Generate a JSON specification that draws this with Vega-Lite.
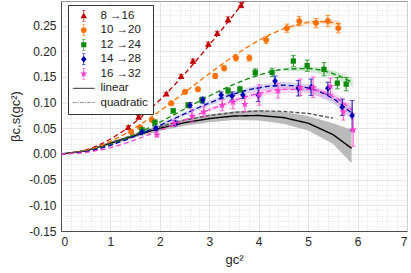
{
  "$schema": "https://vega.github.io/schema/vega-lite/v6.json",
  "width": 346,
  "height": 230,
  "autosize": {"type": "none"},
  "padding": {"left": 61, "top": 1, "right": 4, "bottom": 42},
  "config": {
    "view": {"stroke": "#9a9a9a", "strokeWidth": 1},
    "font": "Liberation Sans",
    "axis": {
      "labelFont": "Liberation Sans", "labelFontSize": 12, "labelColor": "#262626",
      "titleFont": "Liberation Sans", "titleFontSize": 13, "titleFontWeight": "normal", "titleColor": "#262626",
      "domainColor": "#4d4d4d", "ticks": false, "gridColor": "#dedede", "gridWidth": 0.8
    },
    "legend": {
      "orient": "none", "legendX": 7, "legendY": 4, "padding": 5,
      "strokeColor": "#333333", "fillColor": "white",
      "labelFont": "Liberation Sans", "labelFontSize": 11.5, "labelColor": "#1a1a1a",
      "symbolSize": 46, "rowPadding": 1.5, "labelOffset": 11, "symbolOffset": 5,
      "symbolStrokeWidth": 0
    }
  },
  "datasets": {
    "pts": [
      {"s": "8 →16", "x": 1.36, "y": 0.052, "lo": 0.049, "hi": 0.055},
      {"s": "8 →16", "x": 1.57, "y": 0.072, "lo": 0.069, "hi": 0.075},
      {"s": "8 →16", "x": 1.78, "y": 0.087, "lo": 0.084, "hi": 0.090},
      {"s": "8 →16", "x": 2.13, "y": 0.117, "lo": 0.114, "hi": 0.120},
      {"s": "8 →16", "x": 2.43, "y": 0.151, "lo": 0.147, "hi": 0.155},
      {"s": "8 →16", "x": 2.67, "y": 0.181, "lo": 0.177, "hi": 0.185},
      {"s": "8 →16", "x": 2.98, "y": 0.214, "lo": 0.210, "hi": 0.218},
      {"s": "8 →16", "x": 3.16, "y": 0.235, "lo": 0.231, "hi": 0.239},
      {"s": "8 →16", "x": 3.38, "y": 0.262, "lo": 0.257, "hi": 0.267},
      {"s": "8 →16", "x": 3.64, "y": 0.290, "lo": 0.285, "hi": 0.295},
      {"s": "10 →20", "x": 1.42, "y": 0.043, "lo": 0.040, "hi": 0.046},
      {"s": "10 →20", "x": 1.60, "y": 0.052, "lo": 0.049, "hi": 0.055},
      {"s": "10 →20", "x": 1.84, "y": 0.066, "lo": 0.063, "hi": 0.069},
      {"s": "10 →20", "x": 2.23, "y": 0.099, "lo": 0.095, "hi": 0.103},
      {"s": "10 →20", "x": 2.51, "y": 0.121, "lo": 0.117, "hi": 0.125},
      {"s": "10 →20", "x": 2.77, "y": 0.126, "lo": 0.122, "hi": 0.130},
      {"s": "10 →20", "x": 3.12, "y": 0.152, "lo": 0.147, "hi": 0.157},
      {"s": "10 →20", "x": 3.30, "y": 0.167, "lo": 0.162, "hi": 0.172},
      {"s": "10 →20", "x": 3.54, "y": 0.187, "lo": 0.181, "hi": 0.193},
      {"s": "10 →20", "x": 3.81, "y": 0.187, "lo": 0.181, "hi": 0.193},
      {"s": "10 →20", "x": 4.15, "y": 0.222, "lo": 0.215, "hi": 0.229},
      {"s": "10 →20", "x": 4.57, "y": 0.245, "lo": 0.237, "hi": 0.253},
      {"s": "10 →20", "x": 4.82, "y": 0.259, "lo": 0.250, "hi": 0.268},
      {"s": "10 →20", "x": 5.16, "y": 0.255, "lo": 0.246, "hi": 0.264},
      {"s": "10 →20", "x": 5.40, "y": 0.259, "lo": 0.248, "hi": 0.270},
      {"s": "10 →20", "x": 5.61, "y": 0.245, "lo": 0.236, "hi": 0.254},
      {"s": "12 →24", "x": 1.64, "y": 0.047, "lo": 0.044, "hi": 0.050},
      {"s": "12 →24", "x": 1.90, "y": 0.062, "lo": 0.058, "hi": 0.066},
      {"s": "12 →24", "x": 2.27, "y": 0.084, "lo": 0.080, "hi": 0.088},
      {"s": "12 →24", "x": 2.57, "y": 0.095, "lo": 0.090, "hi": 0.100},
      {"s": "12 →24", "x": 2.85, "y": 0.105, "lo": 0.100, "hi": 0.110},
      {"s": "12 →24", "x": 3.38, "y": 0.123, "lo": 0.117, "hi": 0.129},
      {"s": "12 →24", "x": 3.62, "y": 0.126, "lo": 0.120, "hi": 0.132},
      {"s": "12 →24", "x": 3.93, "y": 0.159, "lo": 0.152, "hi": 0.166},
      {"s": "12 →24", "x": 4.27, "y": 0.159, "lo": 0.151, "hi": 0.167},
      {"s": "12 →24", "x": 4.70, "y": 0.181, "lo": 0.170, "hi": 0.192},
      {"s": "12 →24", "x": 4.98, "y": 0.172, "lo": 0.161, "hi": 0.183},
      {"s": "12 →24", "x": 5.32, "y": 0.165, "lo": 0.152, "hi": 0.178},
      {"s": "12 →24", "x": 5.59, "y": 0.138, "lo": 0.127, "hi": 0.149},
      {"s": "12 →24", "x": 5.77, "y": 0.136, "lo": 0.123, "hi": 0.149},
      {"s": "14 →28", "x": 1.64, "y": 0.043, "lo": 0.040, "hi": 0.046},
      {"s": "14 →28", "x": 1.92, "y": 0.050, "lo": 0.046, "hi": 0.054},
      {"s": "14 →28", "x": 2.31, "y": 0.060, "lo": 0.055, "hi": 0.065},
      {"s": "14 →28", "x": 2.61, "y": 0.095, "lo": 0.090, "hi": 0.100},
      {"s": "14 →28", "x": 2.87, "y": 0.105, "lo": 0.099, "hi": 0.111},
      {"s": "14 →28", "x": 3.24, "y": 0.115, "lo": 0.109, "hi": 0.121},
      {"s": "14 →28", "x": 3.46, "y": 0.113, "lo": 0.105, "hi": 0.121},
      {"s": "14 →28", "x": 3.68, "y": 0.115, "lo": 0.108, "hi": 0.122},
      {"s": "14 →28", "x": 3.99, "y": 0.115, "lo": 0.102, "hi": 0.128},
      {"s": "14 →28", "x": 4.33, "y": 0.142, "lo": 0.132, "hi": 0.152},
      {"s": "14 →28", "x": 4.80, "y": 0.128, "lo": 0.113, "hi": 0.143},
      {"s": "14 →28", "x": 5.06, "y": 0.130, "lo": 0.114, "hi": 0.146},
      {"s": "14 →28", "x": 5.40, "y": 0.128, "lo": 0.116, "hi": 0.140},
      {"s": "14 →28", "x": 5.69, "y": 0.091, "lo": 0.075, "hi": 0.107},
      {"s": "14 →28", "x": 5.89, "y": 0.075, "lo": 0.046, "hi": 0.104},
      {"s": "16 →32", "x": 1.94, "y": 0.037, "lo": 0.033, "hi": 0.041},
      {"s": "16 →32", "x": 2.29, "y": 0.060, "lo": 0.054, "hi": 0.066},
      {"s": "16 →32", "x": 2.65, "y": 0.074, "lo": 0.062, "hi": 0.086},
      {"s": "16 →32", "x": 2.89, "y": 0.082, "lo": 0.072, "hi": 0.092},
      {"s": "16 →32", "x": 3.26, "y": 0.095, "lo": 0.084, "hi": 0.106},
      {"s": "16 →32", "x": 3.48, "y": 0.101, "lo": 0.088, "hi": 0.114},
      {"s": "16 →32", "x": 3.72, "y": 0.097, "lo": 0.082, "hi": 0.112},
      {"s": "16 →32", "x": 4.01, "y": 0.115, "lo": 0.095, "hi": 0.135},
      {"s": "16 →32", "x": 4.39, "y": 0.123, "lo": 0.109, "hi": 0.137},
      {"s": "16 →32", "x": 4.84, "y": 0.130, "lo": 0.114, "hi": 0.146},
      {"s": "16 →32", "x": 5.10, "y": 0.130, "lo": 0.110, "hi": 0.150},
      {"s": "16 →32", "x": 5.45, "y": 0.132, "lo": 0.116, "hi": 0.148},
      {"s": "16 →32", "x": 5.71, "y": 0.082, "lo": 0.066, "hi": 0.098},
      {"s": "16 →32", "x": 5.91, "y": 0.047, "lo": 0.015, "hi": 0.079}
    ],
    "fits": [
      {"s": "8 →16", "x": 0, "y": 0}, {"s": "8 →16", "x": 0.5, "y": 0.0076}, {"s": "8 →16", "x": 1, "y": 0.0291},
      {"s": "8 →16", "x": 1.5, "y": 0.0623}, {"s": "8 →16", "x": 2, "y": 0.1053}, {"s": "8 →16", "x": 2.5, "y": 0.156},
      {"s": "8 →16", "x": 3, "y": 0.2122}, {"s": "8 →16", "x": 3.5, "y": 0.272}, {"s": "8 →16", "x": 3.8, "y": 0.309},
      {"s": "10 →20", "x": 0, "y": 0}, {"s": "10 →20", "x": 0.5, "y": 0.0066}, {"s": "10 →20", "x": 1, "y": 0.0245},
      {"s": "10 →20", "x": 1.5, "y": 0.0512}, {"s": "10 →20", "x": 2, "y": 0.0838}, {"s": "10 →20", "x": 2.5, "y": 0.1198},
      {"s": "10 →20", "x": 3, "y": 0.1565}, {"s": "10 →20", "x": 3.5, "y": 0.1911}, {"s": "10 →20", "x": 4, "y": 0.2211},
      {"s": "10 →20", "x": 4.5, "y": 0.2437}, {"s": "10 →20", "x": 5, "y": 0.2562}, {"s": "10 →20", "x": 5.25, "y": 0.2578},
      {"s": "10 →20", "x": 5.5, "y": 0.256}, {"s": "10 →20", "x": 5.65, "y": 0.253},
      {"s": "12 →24", "x": 0, "y": 0}, {"s": "12 →24", "x": 0.5, "y": 0.005}, {"s": "12 →24", "x": 1, "y": 0.0184},
      {"s": "12 →24", "x": 1.5, "y": 0.0382}, {"s": "12 →24", "x": 2, "y": 0.062}, {"s": "12 →24", "x": 2.5, "y": 0.0876},
      {"s": "12 →24", "x": 3, "y": 0.1129}, {"s": "12 →24", "x": 3.5, "y": 0.1356}, {"s": "12 →24", "x": 4, "y": 0.1536},
      {"s": "12 →24", "x": 4.5, "y": 0.1646}, {"s": "12 →24", "x": 5, "y": 0.1664}, {"s": "12 →24", "x": 5.5, "y": 0.1567},
      {"s": "12 →24", "x": 5.9, "y": 0.1393},
      {"s": "14 →28", "x": 0, "y": 0}, {"s": "14 →28", "x": 0.5, "y": 0.0046}, {"s": "14 →28", "x": 1, "y": 0.0169},
      {"s": "14 →28", "x": 1.5, "y": 0.0347}, {"s": "14 →28", "x": 2, "y": 0.0558}, {"s": "14 →28", "x": 2.5, "y": 0.0781},
      {"s": "14 →28", "x": 3, "y": 0.0992}, {"s": "14 →28", "x": 3.5, "y": 0.1171}, {"s": "14 →28", "x": 4, "y": 0.129},
      {"s": "14 →28", "x": 4.5, "y": 0.134}, {"s": "14 →28", "x": 5, "y": 0.1285}, {"s": "14 →28", "x": 5.5, "y": 0.108},
      {"s": "14 →28", "x": 5.9, "y": 0.078},
      {"s": "16 →32", "x": 0, "y": 0}, {"s": "16 →32", "x": 0.5, "y": 0.003}, {"s": "16 →32", "x": 1, "y": 0.0125},
      {"s": "16 →32", "x": 1.5, "y": 0.0275}, {"s": "16 →32", "x": 2, "y": 0.046}, {"s": "16 →32", "x": 2.5, "y": 0.066},
      {"s": "16 →32", "x": 3, "y": 0.086}, {"s": "16 →32", "x": 3.5, "y": 0.104}, {"s": "16 →32", "x": 4, "y": 0.118},
      {"s": "16 →32", "x": 4.5, "y": 0.126}, {"s": "16 →32", "x": 5, "y": 0.126}, {"s": "16 →32", "x": 5.5, "y": 0.112},
      {"s": "16 →32", "x": 5.9, "y": 0.085}
    ],
    "ref": [
      {"s": "linear", "x": 0, "y": 0}, {"s": "linear", "x": 0.5, "y": 0.006}, {"s": "linear", "x": 1, "y": 0.021},
      {"s": "linear", "x": 1.5, "y": 0.036}, {"s": "linear", "x": 2, "y": 0.05}, {"s": "linear", "x": 2.5, "y": 0.061},
      {"s": "linear", "x": 3, "y": 0.069}, {"s": "linear", "x": 3.5, "y": 0.074}, {"s": "linear", "x": 4, "y": 0.075},
      {"s": "linear", "x": 4.5, "y": 0.071}, {"s": "linear", "x": 5, "y": 0.06}, {"s": "linear", "x": 5.5, "y": 0.038},
      {"s": "linear", "x": 5.88, "y": 0.011},
      {"s": "quadratic", "x": 0, "y": 0}, {"s": "quadratic", "x": 0.5, "y": 0.006}, {"s": "quadratic", "x": 1, "y": 0.022},
      {"s": "quadratic", "x": 1.5, "y": 0.038}, {"s": "quadratic", "x": 2, "y": 0.053}, {"s": "quadratic", "x": 2.5, "y": 0.066},
      {"s": "quadratic", "x": 3, "y": 0.075}, {"s": "quadratic", "x": 3.5, "y": 0.081}, {"s": "quadratic", "x": 4, "y": 0.084},
      {"s": "quadratic", "x": 4.5, "y": 0.083}, {"s": "quadratic", "x": 5, "y": 0.079}, {"s": "quadratic", "x": 5.5, "y": 0.07}
    ],
    "bands": [
      {"s": "linear", "x": 0, "lo": 0, "hi": 0}, {"s": "linear", "x": 0.5, "lo": 0.005, "hi": 0.007},
      {"s": "linear", "x": 1, "lo": 0.018, "hi": 0.024}, {"s": "linear", "x": 1.5, "lo": 0.032, "hi": 0.04},
      {"s": "linear", "x": 2, "lo": 0.045, "hi": 0.056}, {"s": "linear", "x": 2.5, "lo": 0.055, "hi": 0.068},
      {"s": "linear", "x": 3, "lo": 0.062, "hi": 0.077}, {"s": "linear", "x": 3.5, "lo": 0.066, "hi": 0.083},
      {"s": "linear", "x": 4, "lo": 0.065, "hi": 0.085}, {"s": "linear", "x": 4.5, "lo": 0.059, "hi": 0.082},
      {"s": "linear", "x": 5, "lo": 0.046, "hi": 0.074}, {"s": "linear", "x": 5.5, "lo": 0.02, "hi": 0.06},
      {"s": "linear", "x": 5.88, "lo": -0.018, "hi": 0.047},
      {"s": "10 →20", "x": 4.5, "lo": 0.2407, "hi": 0.2467}, {"s": "10 →20", "x": 5, "lo": 0.2522, "hi": 0.2602},
      {"s": "10 →20", "x": 5.25, "lo": 0.2533, "hi": 0.2623}, {"s": "10 →20", "x": 5.5, "lo": 0.251, "hi": 0.261},
      {"s": "10 →20", "x": 5.65, "lo": 0.247, "hi": 0.259},
      {"s": "12 →24", "x": 4.5, "lo": 0.161, "hi": 0.168}, {"s": "12 →24", "x": 5, "lo": 0.161, "hi": 0.172},
      {"s": "12 →24", "x": 5.5, "lo": 0.15, "hi": 0.163}, {"s": "12 →24", "x": 5.9, "lo": 0.131, "hi": 0.148},
      {"s": "14 →28", "x": 2, "lo": 0.052, "hi": 0.06}, {"s": "14 →28", "x": 2.5, "lo": 0.074, "hi": 0.082},
      {"s": "14 →28", "x": 3, "lo": 0.094, "hi": 0.104}, {"s": "14 →28", "x": 3.5, "lo": 0.112, "hi": 0.122},
      {"s": "14 →28", "x": 4, "lo": 0.123, "hi": 0.135}, {"s": "14 →28", "x": 4.5, "lo": 0.127, "hi": 0.141},
      {"s": "14 →28", "x": 5, "lo": 0.121, "hi": 0.136}, {"s": "14 →28", "x": 5.5, "lo": 0.099, "hi": 0.117},
      {"s": "14 →28", "x": 5.9, "lo": 0.066, "hi": 0.09},
      {"s": "16 →32", "x": 3, "lo": 0.082, "hi": 0.09}, {"s": "16 →32", "x": 3.5, "lo": 0.099, "hi": 0.109},
      {"s": "16 →32", "x": 4, "lo": 0.112, "hi": 0.124}, {"s": "16 →32", "x": 4.5, "lo": 0.119, "hi": 0.133},
      {"s": "16 →32", "x": 5, "lo": 0.118, "hi": 0.134}, {"s": "16 →32", "x": 5.5, "lo": 0.103, "hi": 0.121},
      {"s": "16 →32", "x": 5.9, "lo": 0.073, "hi": 0.097}
    ]
  },
  "resolve": {
    "scale": {"color": "independent", "shape": "independent"},
    "axis": {"x": "independent", "y": "independent"}
  },
  "layer": [
    {
      "data": {"name": "pts"},
      "mark": {"type": "point", "opacity": 0},
      "encoding": {
        "x": {"field": "x", "type": "quantitative", "scale": {"domain": [0, 7]},
          "axis": {"orient": "bottom", "values": [0.2,0.4,0.6,0.8,1.2,1.4,1.6,1.8,2.2,2.4,2.6,2.8,3.2,3.4,3.6,3.8,4.2,4.4,4.6,4.8,5.2,5.4,5.6,5.8,6.2,6.4,6.6,6.8],
            "grid": true, "gridDash": [1, 2], "gridColor": "#cfcfcf", "gridWidth": 0.7, "labels": false, "ticks": false, "domain": false, "title": null}},
        "y": {"field": "y", "type": "quantitative", "scale": {"domain": [-0.15, 0.298], "nice": false, "zero": false},
          "axis": {"orient": "left", "values": [-0.14,-0.13,-0.12,-0.11,-0.09,-0.08,-0.07,-0.06,-0.04,-0.03,-0.02,-0.01,0.01,0.02,0.03,0.04,0.06,0.07,0.08,0.09,0.11,0.12,0.13,0.14,0.16,0.17,0.18,0.19,0.21,0.22,0.23,0.24,0.26,0.27,0.28,0.29],
            "grid": true, "gridDash": [1, 2], "gridColor": "#cfcfcf", "gridWidth": 0.7, "labels": false, "ticks": false, "domain": false, "title": null}}
      }
    },
    {
      "data": {"name": "bands"},
      "transform": [{"filter": "datum.s === 'linear'"}],
      "mark": {"type": "area", "color": "#b3b3b3", "opacity": 0.9, "clip": true},
      "encoding": {
        "x": {"field": "x", "type": "quantitative", "scale": {"domain": [0, 7]},
          "axis": {"orient": "bottom", "values": [0,1,2,3,4,5,6,7], "grid": true, "title": "gc²", "labelPadding": 5, "titlePadding": 6, "domain": true}},
        "y": {"field": "lo", "type": "quantitative", "scale": {"domain": [-0.15, 0.298], "nice": false, "zero": false},
          "axis": {"orient": "left", "values": [-0.15,-0.1,-0.05,0,0.05,0.1,0.15,0.2,0.25], "grid": true, "title": "βc,s(gc²)",
            "labelExpr": "replace(format(datum.value, '.2f'), '−', '-')", "labelPadding": 5, "titlePadding": 6}},
        "y2": {"field": "hi"}
      }
    },
    {
      "data": {"name": "bands"},
      "transform": [{"filter": "datum.s !== 'linear'"}],
      "mark": {"type": "area", "opacity": 0.18, "clip": true},
      "encoding": {
        "x": {"field": "x", "type": "quantitative", "scale": {"domain": [0, 7]}, "axis": null},
        "y": {"field": "lo", "type": "quantitative", "scale": {"domain": [-0.15, 0.298], "nice": false, "zero": false}, "axis": null},
        "y2": {"field": "hi"},
        "color": {"field": "s", "type": "nominal", "legend": null,
          "scale": {"domain": ["8 →16", "10 →20", "12 →24", "14 →28", "16 →32"], "range": ["#c00000", "#ff7000", "#0b8a0b", "#3030c8", "#ff3fcf"]}}
      }
    },
    {
      "data": {"name": "ref"},
      "mark": {"type": "line", "clip": true, "strokeWidth": 1.4},
      "encoding": {
        "x": {"field": "x", "type": "quantitative", "scale": {"domain": [0, 7]}, "axis": null},
        "y": {"field": "y", "type": "quantitative", "scale": {"domain": [-0.15, 0.298], "nice": false, "zero": false}, "axis": null},
        "color": {"field": "s", "type": "nominal", "legend": null,
          "scale": {"domain": ["linear", "quadratic"], "range": ["#000000", "#555555"]}},
        "strokeDash": {"field": "s", "type": "nominal", "legend": null,
          "scale": {"domain": ["linear", "quadratic"], "range": [[1, 0], [4, 2]]}}
      }
    },
    {
      "data": {"name": "fits"},
      "mark": {"type": "line", "clip": true, "strokeWidth": 1.3, "strokeDash": [5, 3], "interpolate": "monotone"},
      "encoding": {
        "x": {"field": "x", "type": "quantitative", "scale": {"domain": [0, 7]}, "axis": null},
        "y": {"field": "y", "type": "quantitative", "scale": {"domain": [-0.15, 0.298], "nice": false, "zero": false}, "axis": null},
        "color": {"field": "s", "type": "nominal", "legend": null,
          "scale": {"domain": ["8 →16", "10 →20", "12 →24", "14 →28", "16 →32"], "range": ["#c00000", "#ff7000", "#0b8a0b", "#0000b4", "#ff3fcf"]}}
      }
    },
    {
      "data": {"name": "pts"},
      "mark": {"type": "errorbar", "ticks": {"size": 5, "thickness": 1}, "thickness": 1, "clip": true},
      "encoding": {
        "x": {"field": "x", "type": "quantitative", "scale": {"domain": [0, 7]}, "axis": null},
        "y": {"field": "lo", "type": "quantitative", "scale": {"domain": [-0.15, 0.298], "nice": false, "zero": false}, "axis": null},
        "y2": {"field": "hi"},
        "color": {"field": "s", "type": "nominal", "legend": null,
          "scale": {"domain": ["8 →16", "10 →20", "12 →24", "14 →28", "16 →32"], "range": ["#c00000", "#ff7000", "#0b8a0b", "#0000b4", "#ff3fcf"]}}
      }
    },
    {
      "data": {"name": "pts"},
      "mark": {"type": "point", "filled": true, "opacity": 1, "size": 50, "clip": true},
      "encoding": {
        "x": {"field": "x", "type": "quantitative", "scale": {"domain": [0, 7]}, "axis": null},
        "y": {"field": "y", "type": "quantitative", "scale": {"domain": [-0.15, 0.298], "nice": false, "zero": false}, "axis": null},
        "color": {"field": "s", "type": "nominal", "legend": null,
          "scale": {"domain": ["8 →16", "10 →20", "12 →24", "14 →28", "16 →32"], "range": ["#c00000", "#ff7000", "#0b8a0b", "#0000b4", "#ff3fcf"]}},
        "shape": {"field": "s", "type": "nominal", "legend": null,
          "scale": {"domain": ["8 →16", "10 →20", "12 →24", "14 →28", "16 →32"],
            "range": [
              "M0,-0.95L0.95,0.75H-0.95Z",
              "M-0.85,0A0.85,0.85 0 1,1 0.85,0A0.85,0.85 0 1,1 -0.85,0Z",
              "M-0.75,-0.75H0.75V0.75H-0.75Z",
              "M0,-1L0.8,0L0,1L-0.8,0Z",
              "M0,-1.15L0.27,-0.37L1.09,-0.36L0.44,0.14L0.68,0.93L0,0.46L-0.68,0.93L-0.44,0.14L-1.09,-0.36L-0.27,-0.37Z"
            ]}}
      }
    },
    {
      "data": {"name": "pts"},
      "transform": [{"filter": "datum.x > 100"}],
      "mark": {"type": "point", "filled": true, "opacity": 1},
      "encoding": {
        "x": {"field": "x", "type": "quantitative", "scale": {"domain": [0, 7]}, "axis": null},
        "y": {"field": "y", "type": "quantitative", "scale": {"domain": [-0.15, 0.298], "nice": false, "zero": false}, "axis": null},
        "color": {"field": "s", "type": "nominal", "legend": {"title": null},
          "scale": {"domain": ["8 →16", "10 →20", "12 →24", "14 →28", "16 →32", "linear", "quadratic"],
            "range": ["#c00000", "#ff7000", "#0b8a0b", "#0000b4", "#ff3fcf", "#000000", "#222222"]}},
        "shape": {"field": "s", "type": "nominal", "legend": {"title": null},
          "scale": {"domain": ["8 →16", "10 →20", "12 →24", "14 →28", "16 →32", "linear", "quadratic"],
            "range": [
              "M0,-0.95L0.95,0.75H-0.95Z M-0.09,-1.6H0.09V1.6H-0.09Z M-0.5,-1.7H0.5V-1.52H-0.5Z M-0.5,1.52H0.5V1.7H-0.5Z",
              "M-0.85,0A0.85,0.85 0 1,1 0.85,0A0.85,0.85 0 1,1 -0.85,0Z M-0.09,-1.6H0.09V1.6H-0.09Z M-0.5,-1.7H0.5V-1.52H-0.5Z M-0.5,1.52H0.5V1.7H-0.5Z",
              "M-0.75,-0.75H0.75V0.75H-0.75Z M-0.09,-1.6H0.09V1.6H-0.09Z M-0.5,-1.7H0.5V-1.52H-0.5Z M-0.5,1.52H0.5V1.7H-0.5Z",
              "M0,-1L0.8,0L0,1L-0.8,0Z M-0.09,-1.6H0.09V1.6H-0.09Z M-0.5,-1.7H0.5V-1.52H-0.5Z M-0.5,1.52H0.5V1.7H-0.5Z",
              "M0,-1.15L0.27,-0.37L1.09,-0.36L0.44,0.14L0.68,0.93L0,0.46L-0.68,0.93L-0.44,0.14L-1.09,-0.36L-0.27,-0.37Z M-0.09,-1.6H0.09V1.6H-0.09Z M-0.5,-1.7H0.5V-1.52H-0.5Z M-0.5,1.52H0.5V1.7H-0.5Z",
              "M-3.2,-0.12H3.2V0.12H-3.2Z",
              "M-3.2,-0.1H-2.1V0.1H-3.2Z M-1.75,-0.1H-1.45V0.1H-1.75Z M-1.1,-0.1H0V0.1H-1.1Z M0.35,-0.1H0.65V0.1H0.35Z M1,-0.1H2.1V0.1H1Z M2.45,-0.1H3.2V0.1H2.45Z"
            ]}}
      }
    },
    {
      "mark": {"type": "text", "align": "left", "baseline": "middle", "fontSize": 12.5, "font": "Liberation Sans", "color": "#1a1a1a"},
      "encoding": {
        "x": {"datum": 0.52, "type": "quantitative", "scale": {"domain": [0, 7]}, "axis": null},
        "y": {"datum": -0.099, "type": "quantitative", "scale": {"domain": [-0.15, 0.298], "nice": false, "zero": false}, "axis": null},
        "text": {"value": "N"}
      }
    },
    {
      "mark": {"type": "text", "align": "left", "baseline": "middle", "fontSize": 9, "font": "Liberation Sans", "color": "#1a1a1a", "dx": 8.8, "dy": 4},
      "encoding": {
        "x": {"datum": 0.52, "type": "quantitative", "scale": {"domain": [0, 7]}, "axis": null},
        "y": {"datum": -0.099, "type": "quantitative", "scale": {"domain": [-0.15, 0.298], "nice": false, "zero": false}, "axis": null},
        "text": {"value": "f"}
      }
    },
    {
      "mark": {"type": "text", "align": "left", "baseline": "middle", "fontSize": 12.5, "font": "Liberation Sans", "color": "#1a1a1a", "dx": 12.3},
      "encoding": {
        "x": {"datum": 0.52, "type": "quantitative", "scale": {"domain": [0, 7]}, "axis": null},
        "y": {"datum": -0.099, "type": "quantitative", "scale": {"domain": [-0.15, 0.298], "nice": false, "zero": false}, "axis": null},
        "text": {"value": "=12, nSC, c=0.25, s=2"}
      }
    }
  ]
}
